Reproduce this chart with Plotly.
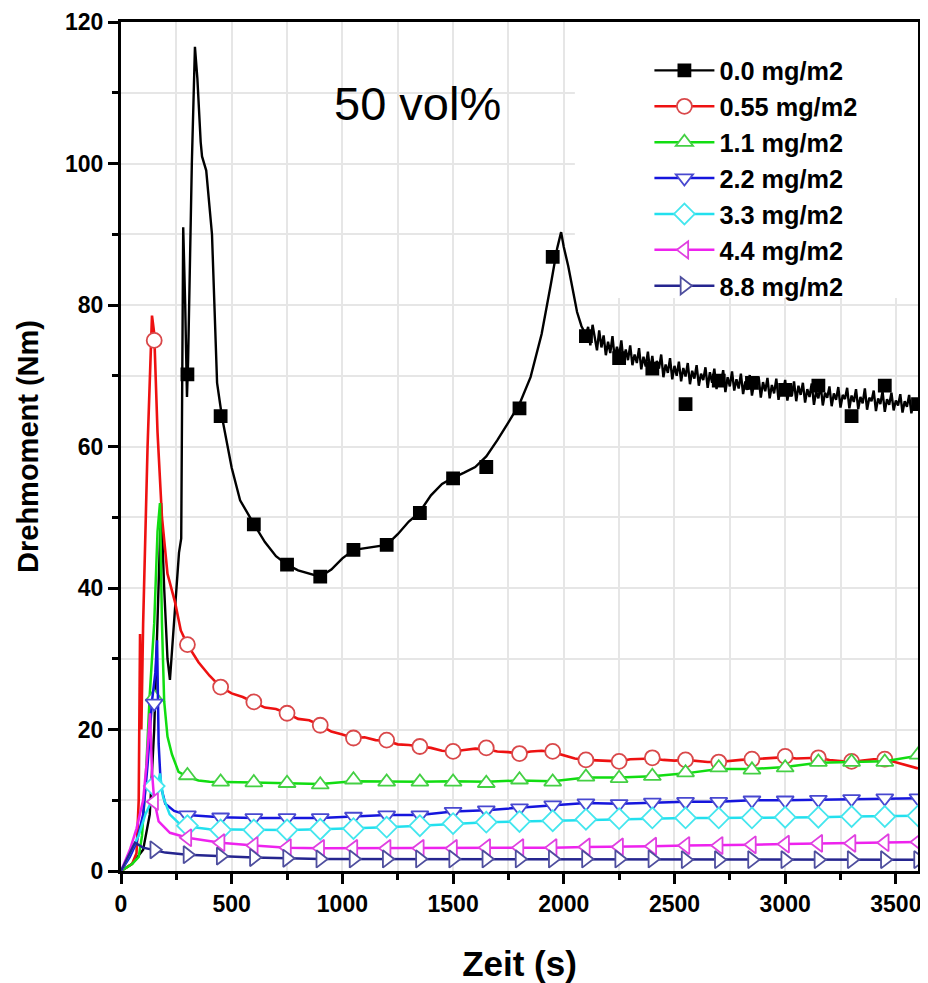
import plotly.graph_objects as go

# ---------------- data ----------------
series_names = ["0.0 mg/m2", "0.55 mg/m2", "1.1 mg/m2", "2.2 mg/m2",
                "3.3 mg/m2", "4.4 mg/m2", "8.8 mg/m2"]

# 0.0 mg/m2 (black) line, first part
t_black_head = [0, 50, 100, 130, 150, 170, 181, 195, 210, 221, 240, 262, 272, 277, 281,
                290, 298, 303, 320, 334, 345, 360, 366, 385, 411, 434, 456, 500, 538,
                601, 650, 700, 750, 800, 850, 899, 950, 1000, 1052, 1100, 1150, 1200,
                1250, 1300, 1346, 1400, 1450, 1495, 1550, 1600, 1650, 1700, 1750, 1800,
                1850, 1900, 1942, 1970, 1988, 2000, 2020, 2040, 2060, 2080]
y_black_head = [0, 1, 3, 8, 20, 40, 52, 40, 30, 27, 36, 45, 47, 75, 91,
                80, 67, 72, 100, 116.5, 112, 103, 101, 99, 90, 69, 64.2, 57, 52.4,
                49, 46.5, 44.5, 43.3, 42.5, 42.1, 41.6, 42.6, 44.2, 45.4, 45.6, 45.9, 46.1,
                47.6, 49.4, 50.6, 53.1, 54.7, 55.5, 56.3, 57.1, 58.6, 60.9, 63.4, 66.0,
                69.8, 75.9, 83.0, 88.0, 90.3, 88.2, 85.5, 82.0, 79.0, 77.0]
# 0.0 mg/m2 (black) line, noisy tail, 10 s steps from 2100 s to 3600 s
y_black_tail = [75.8, 76.9, 74.3, 77.2, 75.1, 73.6, 76.4, 74.0, 75.7, 72.9,
                74.8, 73.2, 75.6, 72.4, 74.1, 72.8, 75.0, 71.9, 73.7, 72.2,
                74.3, 71.5, 73.0, 71.8, 73.9, 70.9, 72.7, 71.3, 73.4, 70.6,
                72.8, 70.2, 72.1, 71.0, 73.0, 69.8, 71.6, 70.4, 72.5, 69.5,
                71.4, 70.0, 72.0, 69.2, 71.1, 69.9, 71.8, 68.8, 70.7, 69.6,
                71.5, 68.6, 70.3, 69.4, 71.2, 68.3, 70.5, 69.0, 71.0, 68.1,
                70.2, 68.9, 70.8, 67.7, 69.8, 68.5, 70.6, 67.9, 69.5, 68.2,
                70.3, 67.4, 69.2, 68.0, 70.1, 67.2, 69.0, 68.4, 69.9, 66.9,
                69.1, 67.8, 69.7, 66.8, 68.7, 67.5, 69.6, 66.6, 68.5, 67.7,
                69.4, 66.5, 68.3, 67.1, 69.2, 66.4, 68.6, 67.3, 69.0, 66.2,
                68.1, 67.0, 68.9, 65.9, 67.8, 66.8, 68.7, 65.8, 67.6, 66.9,
                68.5, 65.7, 67.5, 66.6, 68.4, 65.5, 67.3, 66.7, 68.3, 65.4,
                67.2, 66.3, 68.1, 65.3, 67.0, 66.1, 68.2, 65.2, 66.9, 66.4,
                67.9, 65.0, 66.8, 66.0, 67.8, 64.9, 66.7, 65.9, 67.6, 65.1,
                66.5, 65.8, 67.4, 64.8, 66.4, 65.6, 67.3, 64.7, 66.2, 65.5,
                66.0]
t_black_tail = list(range(2100, 3601, 10))  # sampling times of the tail readings

# 0.55 mg/m2 (red) line
t_red = [0, 50, 70, 80, 86, 92, 100, 120, 140, 150, 165, 185, 210, 244, 270, 300, 350,
         400, 450, 500, 550, 600, 650, 700, 750, 800, 850, 900, 950, 1000, 1050, 1100,
         1150, 1200, 1250, 1300, 1350, 1400, 1450, 1500, 1550, 1600, 1650, 1700, 1750,
         1800, 1850, 1900, 1950, 2000, 2050, 2100, 2150, 2200, 2250, 2300, 2350, 2400,
         2450, 2500, 2550, 2600, 2650, 2700, 2750, 2800, 2850, 2900, 2950, 3000, 3050,
         3100, 3150, 3200, 3250, 3300, 3350, 3400, 3450, 3500, 3550, 3600]
y_red = [0, 1, 2.5, 10, 33.5, 20, 35, 60, 78.5, 76, 62, 50, 42, 38, 34, 32, 29.5,
         27.6, 26, 25.1, 24.6, 23.9, 23.1, 22.9, 22.3, 21.5, 21.3, 20.6, 19.7, 19.3, 18.8, 18.9,
         18.5, 18.4, 17.9, 17.8, 17.6, 17.4, 17.0, 16.9, 17.1, 17.3, 17.2, 16.9, 16.8,
         16.6, 16.9, 17.0, 16.8, 16.3, 15.9, 15.7, 15.6, 15.5, 15.5, 15.8, 15.9, 15.9,
         15.7, 15.6, 15.7, 15.5, 15.4, 15.4, 15.6, 15.7, 15.8, 15.9, 16.1, 16.1, 15.9,
         15.9, 16.0, 15.7, 15.5, 15.4, 15.6, 15.8, 15.8, 15.4, 15.0, 14.5]

# 1.1 mg/m2 (green) line
t_green = [0, 50, 80, 95, 110, 130, 150, 165, 176, 185, 195, 210, 230, 260, 300, 350,
           400, 450, 600, 750, 900, 1050, 1200, 1350, 1500, 1650, 1800, 1950, 2100,
           2250, 2400, 2550, 2700, 2850, 3000, 3150, 3300, 3450, 3600]
y_green = [0, 1, 2, 5, 12, 25, 35, 48, 52, 35, 24, 19, 16.5, 14, 13.3, 12.8,
           12.6, 12.6, 12.5, 12.4, 12.3, 12.7, 12.6, 12.6, 12.7, 12.6, 12.8, 12.7, 13.2,
           13.2, 13.4, 13.8, 14.4, 14.4, 14.7, 15.3, 15.4, 15.5, 16.3]

# 2.2 mg/m2 (blue) line
t_blue = [0, 40, 70, 100, 120, 140, 155, 163, 170, 180, 200, 240, 300, 450, 600, 750,
          900, 1050, 1200, 1350, 1500, 1650, 1800, 1950, 2100, 2250, 2400, 2550, 2700,
          2850, 3000, 3150, 3300, 3450, 3600]
y_blue = [0, 2, 4, 8, 15, 24, 28, 32.6, 18, 12, 9.5, 8.5, 7.9, 7.6, 7.5, 7.5,
          7.5, 7.7, 7.9, 7.9, 8.4, 8.6, 8.9, 9.3, 9.6, 9.5, 9.7, 9.8, 9.8,
          10.0, 10.0, 10.1, 10.2, 10.3, 10.3]

# 3.3 mg/m2 (cyan) line
t_cyan = [0, 50, 80, 110, 140, 165, 176, 190, 220, 260, 300, 400, 600, 750, 900, 1050,
          1200, 1350, 1500, 1650, 1800, 1950, 2100, 2250, 2400, 2550, 2700, 2850, 3000,
          3150, 3300, 3450, 3600]
y_cyan = [0, 3, 5, 8, 10, 12, 13.8, 10.5, 8, 6.8, 6.3, 5.9, 5.8, 5.8, 5.9, 6.0,
          6.2, 6.4, 6.7, 6.9, 7.0, 7.1, 7.3, 7.4, 7.5, 7.5, 7.5, 7.5, 7.6,
          7.6, 7.7, 7.7, 7.8]

# 4.4 mg/m2 (magenta) line
t_mag = [0, 40, 70, 100, 115, 131, 140, 150, 170, 221, 300, 450, 600, 750, 900, 1050,
         1200, 1350, 1500, 1650, 1800, 1950, 2100, 2250, 2400, 2550, 2700, 2850, 3000,
         3150, 3300, 3450, 3600]
y_mag = [0, 3, 6, 10, 15, 22.3, 14, 10, 7, 5.4, 4.7, 4.0, 3.6, 3.3, 3.2, 3.2,
         3.2, 3.2, 3.2, 3.3, 3.3, 3.3, 3.4, 3.4, 3.5, 3.6, 3.6, 3.7, 3.8,
         3.9, 3.9, 4.0, 4.1]

# 8.8 mg/m2 (navy) line
t_navy = [0, 30, 63, 100, 150, 200, 300, 450, 600, 900, 1200, 1500, 1800, 2100, 2400,
          2700, 3000, 3300, 3600]
y_navy = [0, 2, 4.0, 3.3, 3.0, 2.6, 2.3, 2.1, 1.9, 1.7, 1.7, 1.7, 1.7, 1.7, 1.7,
          1.6, 1.6, 1.6, 1.6]

# symbol positions (every 150 s)
t_mk = [150, 300, 450, 600, 750, 900, 1050, 1200, 1350, 1500, 1650, 1800, 1950, 2100,
        2250, 2400, 2550, 2700, 2850, 3000, 3150, 3300, 3450, 3600]
mk_black = [None, 70.2, 64.3, 49.0, 43.3, 41.6, 45.4, 46.1, 50.6, 55.5, 57.1, 65.4, 86.8,
            75.6, 72.5, 71.0, 66.0, 69.3, 69.0, 68.0, 68.6, 64.3, 68.6, 66.0]
mk_red = [75.0, 32.0, 26.0, 23.9, 22.3, 20.6, 18.8, 18.5, 17.6, 16.9, 17.4, 16.6, 16.9,
          15.7, 15.5, 16.0, 15.7, 15.4, 15.8, 16.2, 16.0, 15.5, 15.8, None]
mk_green = [24.6, 13.5, 12.6, 12.5, 12.4, 12.2, 12.9, 12.6, 12.6, 12.6, 12.4, 12.9, 12.6,
            13.3, 13.1, 13.4, 13.9, 14.6, 14.3, 14.6, 15.4, 15.4, 15.4, 16.4]
mk_blue = [23.7, 7.9, 7.6, 7.5, 7.5, 7.5, 7.7, 7.9, 7.9, 8.4, 8.6, 8.9, 9.3, 9.6, 9.5,
           9.7, 9.8, 9.8, 10.0, 10.0, 10.1, 10.2, 10.3, 10.3]
mk_cyan = [12.0, 6.4, 5.8, 5.8, 5.8, 5.9, 6.0, 6.2, 6.4, 6.7, 6.9, 7.0, 7.1, 7.3, 7.4,
           7.5, 7.5, 7.5, 7.5, 7.6, 7.6, 7.7, 7.7, 7.8]
mk_mag = [9.8, 4.7, 4.0, 3.6, 3.3, 3.2, 3.2, 3.2, 3.2, 3.2, 3.3, 3.3, 3.3, 3.4, 3.4,
          3.5, 3.6, 3.6, 3.7, 3.8, 3.9, 3.9, 4.0, 4.1]
mk_navy = [3.0, 2.3, 2.1, 1.9, 1.8, 1.7, 1.7, 1.7, 1.7, 1.7, 1.7, 1.7, 1.7, 1.7, 1.7,
           1.7, 1.6, 1.6, 1.6, 1.6, 1.6, 1.6, 1.6, 1.6]

x_ticks = [0, 500, 1000, 1500, 2000, 2500, 3000, 3500]
y_ticks = [0, 20, 40, 60, 80, 100, 120]

# ---------------- styling ----------------
line_colors = ["#000000", "#EE1111", "#11DD11", "#1515DD", "#22E0EE", "#EE22EE", "#25258F"]
mk_colors = ["#000000", "#D9484A", "#44D044", "#4848D0", "#44E6EE", "#E040E0", "#4E4E9E"]
symbols = ["square", "circle", "triangle-up", "triangle-down", "diamond",
           "triangle-left", "triangle-right"]
mk_sizes = [12, 15, 15, 15, 16, 15, 15]
line_widths = [2.4, 2.6, 2.5, 2.5, 2.5, 2.5, 2.5]

lines_t = [t_black_head + t_black_tail, t_red, t_green, t_blue, t_cyan, t_mag, t_navy]
lines_y = [y_black_head + y_black_tail, y_red, y_green, y_blue, y_cyan, y_mag, y_navy]
marks_y = [mk_black, mk_red, mk_green, mk_blue, mk_cyan, mk_mag, mk_navy]

FONT = "Liberation Sans, Arial, sans-serif"

fig = go.Figure()
for i in range(len(series_names)):
    fill = line_colors[i] if i == 0 else "white"
    fig.add_trace(go.Scatter(x=lines_t[i], y=lines_y[i], mode="lines",
                             line=dict(color=line_colors[i], width=line_widths[i]),
                             showlegend=False, hoverinfo="skip"))
    fig.add_trace(go.Scatter(x=t_mk, y=marks_y[i], mode="markers",
                             marker=dict(symbol=symbols[i], size=mk_sizes[i], color=fill,
                                         line=dict(color=mk_colors[i], width=1.8)),
                             showlegend=False, hoverinfo="skip"))
    fig.add_trace(go.Scatter(x=[None], y=[None], mode="lines+markers",
                             name=series_names[i],
                             line=dict(color=line_colors[i], width=line_widths[i]),
                             marker=dict(symbol=symbols[i], size=mk_sizes[i], color=fill,
                                         line=dict(color=mk_colors[i], width=1.8))))

# white area behind legend (hides grid there, as in the original)
fig.add_shape(type="rect", xref="x", yref="y", x0=2050, x1=3600, y0=81, y1=120,
              fillcolor="white", line=dict(width=0), layer="between")

fig.add_annotation(x=1340, y=108.5, xref="x", yref="y", text="50 vol%",
                   showarrow=False, font=dict(family=FONT, size=47, color="black"))

axis_common = dict(
    showline=True, linecolor="black", linewidth=3, mirror=True,
    ticks="outside", tickcolor="black", tickwidth=2.5, ticklen=10,
    showgrid=True, gridcolor="#E6E6E6", gridwidth=1.5, zeroline=False,
    automargin=False,
    tickfont=dict(family=FONT, size=23, color="black", weight="bold"),
)

fig.update_xaxes(range=[0, 3600], tickvals=x_ticks,
                 minor=dict(dtick=250, tick0=0, ticks="outside", ticklen=6, tickwidth=2.5,
                            tickcolor="black", showgrid=True, gridcolor="#E6E6E6",
                            gridwidth=1.5),
                 title=dict(text="Zeit (s)", standoff=36,
                            font=dict(family=FONT, size=35, color="black", weight="bold")),
                 **axis_common)
fig.update_yaxes(range=[0, 120], tickvals=y_ticks,
                 minor=dict(dtick=10, tick0=0, ticks="outside", ticklen=6, tickwidth=2.5,
                            tickcolor="black", showgrid=True, gridcolor="#E6E6E6",
                            gridwidth=1.5),
                 title=dict(text="Drehmoment (Nm)", standoff=18,
                            font=dict(family=FONT, size=29, color="black", weight="bold")),
                 **axis_common)

# the page body has an 8 px margin, so the figure is 8 px smaller each way
fig.update_layout(
    width=920, height=975,
    margin=dict(l=113, r=10, t=14, b=112),
    paper_bgcolor="white", plot_bgcolor="white",
    showlegend=True,
    legend=dict(x=0.663, y=0.970, xanchor="left", yanchor="top",
                bgcolor="rgba(255,255,255,0)", borderwidth=0,
                font=dict(family=FONT, size=25.3, color="black", weight="bold"),
                tracegroupgap=0, itemwidth=60),
)

fig.write_html("out.html")
